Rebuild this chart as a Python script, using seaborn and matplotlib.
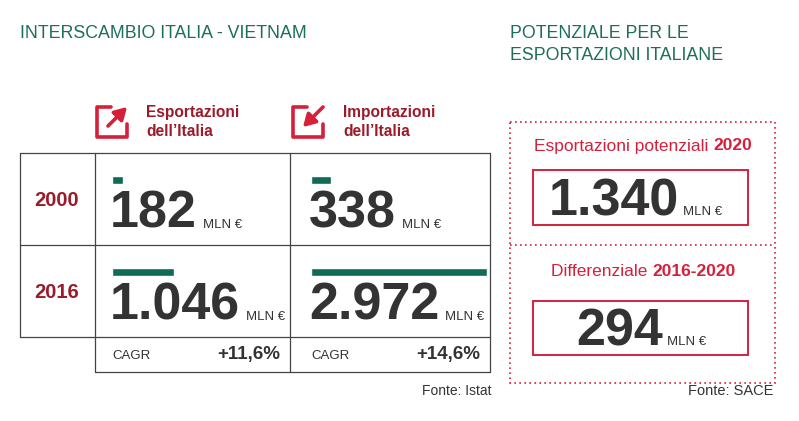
import matplotlib
matplotlib.use("Agg")
import matplotlib.pyplot as plt
import seaborn as sns
from matplotlib.patches import Rectangle

sns.set_theme(style="white")
plt.rcParams["font.family"] = "Liberation Sans"

years = ["2000", "2016"]
export_vals = [182, 1046]
import_vals = [338, 2972]
export_labels = ["182", "1.046"]
import_labels = ["338", "2.972"]
cagr_labels = ["+11,6%", "+14,6%"]
potential_2020 = "1.340"
diff_2016_2020 = "294"

GREEN_T = "#1d6e5b"
BAR = "#0f6b55"
DRED = "#9b1b2a"
RED = "#d6203a"
DARK = "#333333"

fig = plt.figure(figsize=(7.99, 4.21), dpi=100)
ax = fig.add_axes([0, 0, 1, 1])
ax.set_xlim(0, 799)
ax.set_ylim(421, 0)
ax.axis("off")

ax.text(20, 33, "INTERSCAMBIO ITALIA - VIETNAM", color=GREEN_T, fontsize=12.8, va="center")
ax.text(510, 33, "POTENZIALE PER LE", color=GREEN_T, fontsize=12.8, va="center")
ax.text(510, 55, "ESPORTAZIONI ITALIANE", color=GREEN_T, fontsize=12.8, va="center")

def icon(x0, y0, out=True):
    s = 30
    ax.plot([x0 + s * 0.45, x0, x0, x0 + s, x0 + s], [y0, y0, y0 + s, y0 + s, y0 + s * 0.55],
            color=RED, lw=2.6, solid_capstyle="round", solid_joinstyle="round")
    if out:
        ax.annotate("", xy=(x0 + s + 2, y0 - 2), xytext=(x0 + 9, y0 + s - 9),
                    arrowprops=dict(arrowstyle="-|>,head_width=0.35,head_length=0.6", color=RED, lw=2.6))
    else:
        ax.annotate("", xy=(x0 + 8, y0 + s - 8), xytext=(x0 + s + 2, y0 - 2),
                    arrowprops=dict(arrowstyle="-|>,head_width=0.35,head_length=0.6", color=RED, lw=2.6))

icon(97, 107, True)
icon(293, 107, False)
for xx, w1 in ((146, "Esportazioni"), (343, "Importazioni")):
    ax.text(xx, 113, w1, color=DRED, fontsize=11.2, fontweight="bold", va="center")
    ax.text(xx, 131, "dell\u2019Italia", color=DRED, fontsize=11.2, fontweight="bold", va="center")

lc = dict(color="#444444", lw=0.9)
ax.plot([20, 490], [153, 153], **lc)
ax.plot([20, 490], [245, 245], **lc)
ax.plot([20, 490], [337, 337], **lc)
ax.plot([95, 490], [372, 372], **lc)
ax.plot([20, 20], [153, 337], **lc)
for xv in (95, 290, 490):
    ax.plot([xv, xv], [153, 372], **lc)

row_y = [153, 245]
maxv = max(import_vals)
scale = 176 / maxv
for i, yr in enumerate(years):
    y0 = row_y[i]
    ax.text(57, y0 + 47, yr, color=DRED, fontsize=14.5, fontweight="bold", ha="center", va="center")
    for x0, vals, labs in ((112, export_vals, export_labels), (311, import_vals, import_labels)):
        w = max(vals[i] * scale, 8)
        ax.barh(y0 + 27, w, height=8, left=x0, color=BAR)
        t = ax.text(x0 - 2, y0 + 75, labs[i], color=DARK, fontsize=37.5, fontweight="bold", va="baseline")
        fig.canvas.draw()
        bb = t.get_window_extent()
        ax.text(bb.x1 + 6, y0 + 75, "MLN \u20ac", color=DARK, fontsize=9.5, va="baseline")

for x0, x1, lab in ((112, 280, cagr_labels[0]), (311, 480, cagr_labels[1])):
    ax.text(x0, 356, "CAGR", color=DARK, fontsize=9.5, va="center")
    ax.text(x1, 355, lab, color=DARK, fontsize=13.5, fontweight="bold", va="center", ha="right")

ax.text(492, 391, "Fonte: Istat", color=DARK, fontsize=10, va="center", ha="right")
ax.text(773, 391, "Fonte: SACE", color=DARK, fontsize=10.5, va="center", ha="right")

ax.add_patch(Rectangle((510, 122), 265, 261, fill=False, ec=RED, lw=1.2, ls=(0, (1, 2))))
ax.plot([510, 775], [245, 245], color=RED, lw=1.2, ls=(0, (1, 2)))

def two_part(cx, y, a, b):
    fig.canvas.draw()
    r = fig.canvas.get_renderer()
    t1 = ax.text(0, y, a, color=RED, fontsize=12.5, va="center")
    t2 = ax.text(0, y, b, color=RED, fontsize=12.5, fontweight="bold", va="center")
    w1 = t1.get_window_extent(r).width
    w2 = t2.get_window_extent(r).width
    left = cx - (w1 + w2) / 2
    t1.set_x(left)
    t2.set_x(left + w1)

two_part(643, 146, "Esportazioni potenziali ", "2020")
two_part(643, 271, "Differenziale ", "2016-2020")

ax.add_patch(Rectangle((533, 170), 215, 55, fill=False, ec=RED, lw=1.4))
ax.add_patch(Rectangle((533, 301), 215, 54, fill=False, ec=RED, lw=1.4))
for yb, lab, xs in ((215, potential_2020, 549), (345, diff_2016_2020, 576)):
    t = ax.text(xs, yb, lab, color=DARK, fontsize=37.5, fontweight="bold", va="baseline")
    fig.canvas.draw()
    bb = t.get_window_extent()
    ax.text(bb.x1 + 4, yb, "MLN \u20ac", color=DARK, fontsize=9.5, va="baseline")

fig.savefig("out.png", dpi=100)
